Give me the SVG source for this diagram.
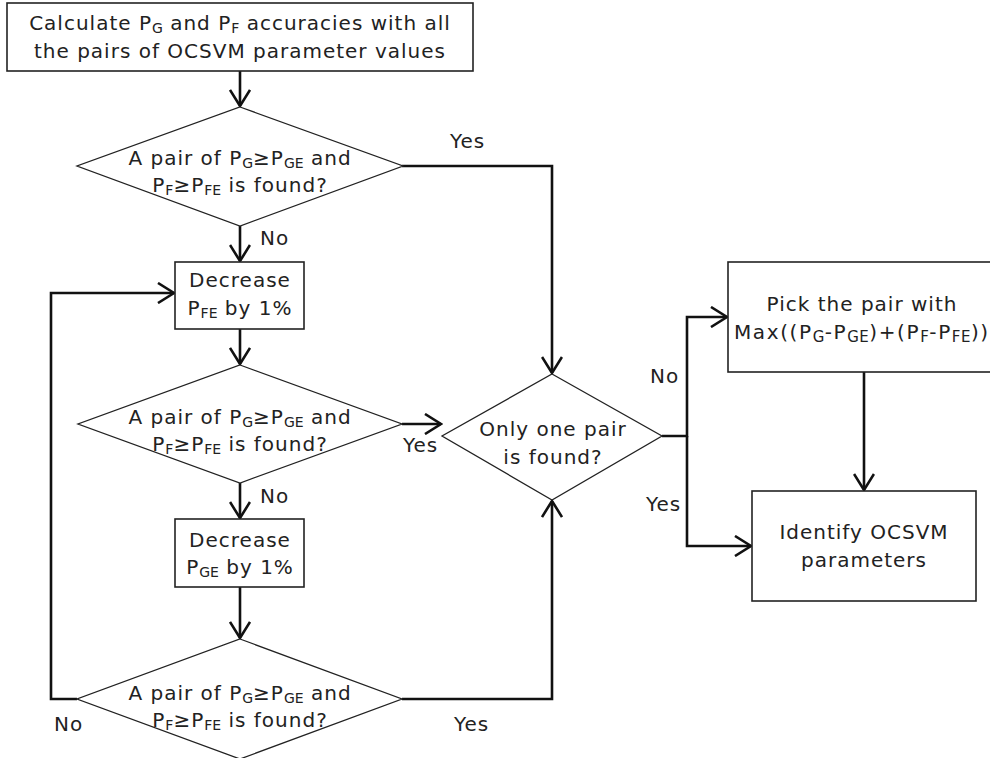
<svg xmlns="http://www.w3.org/2000/svg" width="990" height="758" viewBox="0 0 990 758">
<style>
text{font-family:"DejaVu Sans","Verdana",sans-serif;font-size:20px;fill:#222;letter-spacing:1px}
.m{text-anchor:middle}
.s{font-size:14px;letter-spacing:0}
.box{fill:#fff;stroke:#222;stroke-width:1.6}
.dia{fill:#fff;stroke:#222;stroke-width:1.3}
.con{fill:none;stroke:#111;stroke-width:2.6}
.arr{marker-end:url(#ah)}
</style>
<defs>
<marker id="ah" markerUnits="userSpaceOnUse" viewBox="0 0 20 22" refX="18" refY="11" markerWidth="20" markerHeight="22" orient="auto">
<path d="M2,1 L18,11 L2,21" fill="none" stroke="#111" stroke-width="2.6"/>
</marker>
</defs>
<rect width="990" height="758" fill="#fff"/>
<g id="connectors">
<path class="con arr" d="M240,71 V106"/>
<path class="con arr" d="M402,166 H552 V373"/>
<path class="con arr" d="M240,226 V261"/>
<path class="con arr" d="M240,329 V364"/>
<path class="con arr" d="M402,424 H441"/>
<path class="con arr" d="M240,483 V518"/>
<path class="con arr" d="M240,587 V638"/>
<path class="con arr" d="M77,699 H51 V293 H174"/>
<path class="con arr" d="M402,699 H552 V501"/>
<path class="con arr" d="M662,436 H687 V317 H727"/>
<path class="con arr" d="M687,436 V546 H751"/>
<path class="con arr" d="M864,372 V490"/>
</g>
<g id="labels">
<text x="450" y="148">Yes</text>
<text x="260" y="245">No</text>
<text x="403" y="452">Yes</text>
<text x="260" y="503">No</text>
<text x="54" y="731">No</text>
<text x="454" y="731">Yes</text>
<text x="650" y="383">No</text>
<text x="646" y="511">Yes</text>
</g>
<g id="start">
<rect class="box" x="7" y="3" width="466" height="68"/>
<text class="m" x="240" y="30">Calculate P<tspan class="s" dy="3">G</tspan><tspan dy="-3"> and P</tspan><tspan class="s" dy="3">F</tspan><tspan dy="-3"> accuracies with all</tspan></text>
<text class="m" x="240" y="58">the pairs of OCSVM parameter values</text>
</g>
<g id="check1">
<polygon class="dia" points="240,107 403,166 240,226 77,166"/>
<text class="m" x="240" y="165">A pair of P<tspan class="s" dy="3">G</tspan><tspan dy="-3">≥P</tspan><tspan class="s" dy="3">GE</tspan><tspan dy="-3"> and</tspan></text>
<text class="m" x="240" y="192">P<tspan class="s" dy="3">F</tspan><tspan dy="-3">≥P</tspan><tspan class="s" dy="3">FE</tspan><tspan dy="-3"> is found?</tspan></text>
</g>
<g id="decFE">
<rect class="box" x="175" y="262" width="129" height="67"/>
<text class="m" x="240" y="287">Decrease</text>
<text class="m" x="240" y="315">P<tspan class="s" dy="3">FE</tspan><tspan dy="-3"> by 1%</tspan></text>
</g>
<g id="check2">
<polygon class="dia" points="240,365 402,424 240,483 78,424"/>
<text class="m" x="240" y="424">A pair of P<tspan class="s" dy="3">G</tspan><tspan dy="-3">≥P</tspan><tspan class="s" dy="3">GE</tspan><tspan dy="-3"> and</tspan></text>
<text class="m" x="240" y="451">P<tspan class="s" dy="3">F</tspan><tspan dy="-3">≥P</tspan><tspan class="s" dy="3">FE</tspan><tspan dy="-3"> is found?</tspan></text>
</g>
<g id="decGE">
<rect class="box" x="175" y="519" width="129" height="68"/>
<text class="m" x="240" y="547">Decrease</text>
<text class="m" x="240" y="574">P<tspan class="s" dy="3">GE</tspan><tspan dy="-3"> by 1%</tspan></text>
</g>
<g id="check3">
<polygon class="dia" points="240,639 402,699 240,759 77,699"/>
<text class="m" x="240" y="700">A pair of P<tspan class="s" dy="3">G</tspan><tspan dy="-3">≥P</tspan><tspan class="s" dy="3">GE</tspan><tspan dy="-3"> and</tspan></text>
<text class="m" x="240" y="727">P<tspan class="s" dy="3">F</tspan><tspan dy="-3">≥P</tspan><tspan class="s" dy="3">FE</tspan><tspan dy="-3"> is found?</tspan></text>
</g>
<g id="onlyone">
<polygon class="dia" points="552,374 662,436 552,500 442,436"/>
<text class="m" x="553" y="436">Only one pair</text>
<text class="m" x="553" y="464">is found?</text>
</g>
<g id="pick">
<rect class="box" x="728" y="262" width="270" height="110"/>
<text class="m" x="862" y="311">Pick the pair with</text>
<text x="734" y="339" style="letter-spacing:1.6px">Max((P<tspan class="s" dy="3" style="font-size:15px;letter-spacing:0.5px">G</tspan><tspan dy="-3">-P</tspan><tspan class="s" dy="3" style="font-size:15px;letter-spacing:0.5px">GE</tspan><tspan dy="-3">)+(P</tspan><tspan class="s" dy="3" style="font-size:15px;letter-spacing:0.5px">F</tspan><tspan dy="-3">-P</tspan><tspan class="s" dy="3" style="font-size:15px;letter-spacing:0.5px">FE</tspan><tspan dy="-3">))</tspan></text>
</g>
<g id="identify">
<rect class="box" x="752" y="491" width="224" height="110"/>
<text class="m" x="864" y="539">Identify OCSVM</text>
<text class="m" x="864" y="567">parameters</text>
</g>
</svg>
